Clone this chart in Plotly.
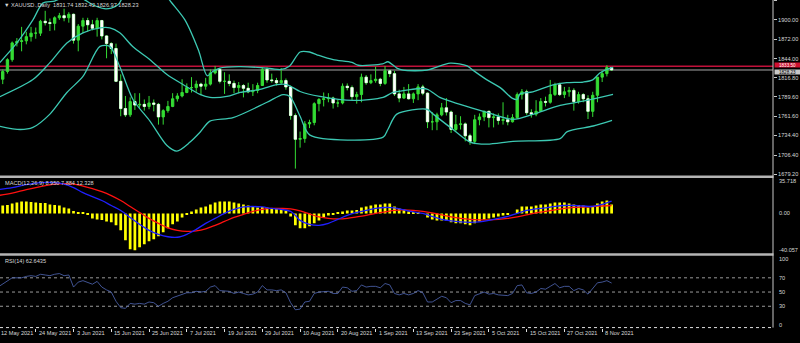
import plotly.graph_objects as go
import pandas as pd

# ---------------- data ----------------
dates = pd.bdate_range("2021-05-12", "2021-11-10")  # 131 daily bars

opens = [1836,1815,1826,1843,1867,1869,1870,1876,1881,1881,1898,1896,1895,1903,1906,1903,1908,1871,1891,1899,
         1893,1888,1899,1877,1866,1859,1812,1773,1764,1783,1778,1779,1776,1781,1779,1761,1770,1776,1787,1791,
         1796,1803,1803,1808,1805,1808,1824,1829,1812,1812,1809,1803,1806,1802,1797,1799,1806,1829,1814,1813,
         1810,1813,1804,1763,1729,1730,1751,1753,1780,1786,1787,1788,1781,1781,1805,1803,1790,1793,1818,1810,
         1813,1815,1809,1827,1823,1794,1788,1794,1787,1794,1804,1795,1754,1754,1764,1774,1768,1743,1750,1751,
         1734,1726,1757,1761,1769,1760,1761,1756,1757,1754,1760,1793,1797,1767,1765,1769,1783,1782,1793,1807,
         1793,1797,1799,1783,1793,1787,1769,1792,1818,1823,1831.74]
highs = [1845,1829,1845,1869,1874,1890,1883,1890,1889,1900,1913,1902,1905,1910,1916,1911,1909,1894,1903,1903,
         1900,1903,1900,1878,1868,1866,1822,1791,1789,1795,1795,1786,1791,1786,1781,1772,1784,1795,1795,1815,
         1809,1818,1813,1810,1817,1829,1834,1831,1825,1822,1813,1811,1808,1810,1808,1810,1832,1832,1823,1817,
         1831,1816,1806,1766,1740,1755,1757,1782,1788,1796,1795,1790,1786,1809,1809,1806,1797,1823,1821,1822,
         1833,1817,1834,1828,1827,1800,1804,1808,1796,1808,1807,1796,1768,1767,1781,1788,1770,1764,1762,1753,
         1737,1764,1766,1770,1770,1766,1766,1782,1764,1765,1796,1801,1800,1772,1785,1788,1790,1814,1810,1810,
         1804,1804,1802,1797,1795,1792,1797,1818,1827,1835,1832.42]
lows = [1813,1808,1823,1840,1862,1855,1865,1869,1873,1877,1892,1884,1885,1900,1898,1896,1866,1855,1881,1883,
        1885,1876,1872,1845,1851,1811,1762,1761,1761,1771,1774,1770,1772,1769,1750,1750,1767,1775,1783,1789,
        1795,1796,1797,1792,1800,1806,1822,1809,1794,1805,1795,1795,1789,1795,1791,1795,1806,1810,1810,1806,
        1808,1800,1757,1687,1717,1724,1745,1749,1769,1776,1782,1773,1775,1779,1799,1785,1780,1782,1807,1808,
        1810,1805,1807,1818,1791,1782,1787,1786,1781,1785,1792,1745,1742,1742,1762,1763,1738,1740,1743,1726,
        1721,1722,1749,1755,1746,1746,1750,1750,1749,1753,1758,1786,1764,1760,1762,1768,1776,1780,1791,1791,
        1788,1790,1770,1780,1782,1758,1761,1782,1811,1819,1826.97]
closes = [1815,1826,1843,1867,1869,1870,1876,1881,1881,1898,1896,1895,1903,1906,1903,1908,1871,1891,1899,1893,
          1888,1899,1877,1866,1859,1812,1773,1764,1783,1778,1779,1776,1781,1779,1761,1770,1776,1787,1791,1796,
          1803,1803,1808,1805,1808,1824,1829,1812,1812,1809,1803,1806,1802,1797,1799,1806,1829,1814,1813,1810,
          1813,1804,1763,1729,1730,1751,1753,1780,1786,1787,1788,1781,1781,1805,1803,1790,1793,1818,1810,1813,
          1815,1809,1827,1823,1794,1788,1794,1787,1794,1804,1795,1754,1754,1764,1774,1768,1743,1750,1751,1734,
          1726,1757,1761,1769,1760,1761,1756,1757,1754,1760,1793,1797,1767,1765,1769,1783,1782,1793,1807,1793,
          1797,1799,1783,1793,1787,1769,1792,1818,1823,1831.7,1828.23]

# Bollinger bands (20,2): (bar index, price)
bb_up_x = [0.4,4,7.4,9.5,12,14,16,18,20,22.5,24,25.5,27,29,31,33,35,36.4,39.6,42.5,44.3,45.5,47,51,55,58,60,61.8,
           64,66,68,71,75,76.3,81.5,82.6,84.5,85.8,90.9,95.8,99.4,100.6,103.6,106.4,108.9,110,110.6,113.3,117.6,
           120.5,124,126,127.5,129.7,130.3]
bb_up_y = [1839,1867,1900,1924,1927,1933,1934,1930,1922,1916,1917,1922,1940,1955,1960,1957,1942,1928,1900,1856,
           1820,1826,1831,1833,1832,1830,1829,1834,1854,1854,1849,1843,1839,1835,1837,1840,1831,1828,1828,1838,
           1834,1828,1814,1803,1788,1786,1794,1797,1807,1810,1811,1814,1824,1831,1832]
bb_mid_x = [0.4,7.4,11,14.6,18,21.6,23.7,25.8,28.6,32.2,35.8,39.2,42.8,44.9,48.5,51.3,55.5,59.1,61.2,62.5,64,68.2,
            75.2,81.6,83.7,90,91.1,93.6,97.9,103.6,109.1,113.3,119.1,124.8,130.3]
bb_mid_y = [1790,1814.5,1838.7,1867,1881.5,1888.6,1888.6,1881.5,1861.5,1843,1821.7,1807.4,1793.2,1789,1790.3,1796,
            1800.3,1807.4,1807.4,1803,1797.4,1790.3,1784.6,1789,1796,1801.7,1800.3,1789,1779,1767.5,1757.5,1764.7,
            1777.5,1784.6,1793.2]
bb_low_x = [0.4,4.7,7.4,11,14.6,18,21.6,23.7,25.8,28.6,32.2,35.8,37.9,40.7,42.8,44.9,49.8,57,60.4,61.9,64,66.1,
            81.6,82.6,84.5,90.9,92.2,96.4,100,103.6,109.1,119.1,120.6,126.1,130.1]
bb_low_y = [1747.6,1743,1746,1765,1796,1819,1862,1862,1833,1786,1755,1720,1712,1725,1739,1755,1760,1782,1793,1790,
            1762,1735,1732,1743,1765,1772,1765,1743,1725,1722,1726,1730,1740,1748,1756]

red_level = 1833.5
bid_level = 1828.23

# MACD(12,26,9)
macd_hist = [8,8,8.5,10,11,12,12,11.5,11,10.5,10.5,9,8.5,8,6,5,2.5,1.5,1,-1.5,
             -5,-6,-6.5,-8,-9,-12,-17,-27,-36,-37,-34,-31,-28,-26,-23,-19,-15,-11,-8,-4,
             -1,2,4,6,7,9,11,12,12,12,11,10,9,8,7,6,6.5,6,5,4.5,
             4,3,-3,-12,-15,-15,-13,-10,-7,-4,-2,-1,0.5,2,3,3,3.5,6,7,8,
             9,9,10,10,7,5,4,2,1,1,0,-4,-6,-7,-7,-7,-9,-10,-10,-11,
             -12,-10,-8,-6,-5,-4,-3,-2,-1.5,0,4,7,7,7,8,9,9,10,11,11,
             11,10,9,8.5,8,6,7,10,12,13,8.95]
macd_blue_x = [0,3,6,9,12,14,16,18,20,22,24,26,28,30,32,34,36,38,40,42,44,46,48,50,52,54,56,58,60,62,63,64,66,68,70,
               72,74,76,78,80,82,84,86,88,90,92,94,96,98,100,102,104,106,108,110,112,114,116,118,120,122,124,126,128,130]
macd_blue_y = [24,26,29,31,31,29.5,26,21,17,13,8,3,-4,-11,-17,-21,-23.5,-24,-21,-16,-10,-5,0,4,6.5,7,6.5,5,4,2,-2,
               -7,-11,-12,-10,-6,-2,1,3,5,6,5.5,3.5,1.5,0,-3,-6,-7.5,-8.5,-9,-8.5,-7,-5,-3,0,3,4.5,5.5,7,8,8,7.5,7,
               9,12.328]
macd_red_x = [0,3,6,9,12,14,16,18,20,22,24,26,28,30,32,34,36,38,40,42,44,46,48,50,52,54,56,58,60,62,64,66,68,70,72,
              74,76,78,80,82,84,86,88,90,92,94,96,98,100,102,104,106,108,110,112,114,116,118,120,122,124,126,128,130]
macd_red_y = [18,20.5,24,27,29.5,30,29.5,27.5,25,22,18,13,7,1,-5,-10,-14.5,-17,-18,-17.5,-15.5,-12,-8,-4,-1,2,4,5,
              5,4.5,2.5,-0.5,-3.5,-5,-5.5,-5,-3.5,-2,0,1.5,3,3.5,3,2,0.5,-1.5,-3.5,-5,-6,-6.5,-6.5,-6,-5,-3.5,-1.5,
              0.5,2,3.5,5,6,6.5,7,7.5,7.884]
macd_top, macd_bottom = 35.718, -40.057

# RSI(14)
rsi = [57,61,65,70,70,70,72,73,72,75,74,73,75,76,73,74,57,64,66,63,
       61,65,57,53,50,37,28,27,34,33,34,33,36,35,30,34,37,42,44,46,
       49,49,51,50,51,57,59,52,52,51,48,50,48,46,47,50,59,53,53,52,
       53,49,35,25,26,36,37,48,50,51,51,48,48,57,56,51,52,60,57,58,
       58,56,62,60,48,46,48,46,48,52,49,36,36,40,44,42,35,38,38,34,
       32,45,47,50,47,48,46,46,45,48,59,60,49,48,50,55,54,58,62,56,
       58,58,52,55,53,47,55,63,64,66,62.6435]
rsi_levels = [70, 50, 30]
rsi_labels = [100, 70, 50, 30, 0]

price_ticks = [1927.20, 1900.00, 1872.00, 1844.00, 1816.80, 1789.60, 1761.60, 1734.40, 1706.40, 1679.20]

# ---------------- style / layout geometry ----------------
W, H = 800, 343
AX = 773            # right axis pixel
BAR0, STEP = -2.0, 4.72   # pixel of bar 0 and bar spacing
def px(xp):
    return xp / W
def py(yp):
    return (H - yp) / H

GREEN = "#34dc34"
TEAL = "#3cc8b2"
TXT = "#d8d8d8"
FONT = "Liberation Sans"
FS = 5.6

idx = list(range(len(closes)))
x_lo = (0 - BAR0) / STEP
x_hi = (AX - BAR0) / STEP

fig = go.Figure()

# candles (wicks + bull bodies)
fig.add_trace(go.Candlestick(
    x=idx, open=opens, high=highs, low=lows, close=closes,
    xaxis="x", yaxis="y",
    increasing=dict(line=dict(color=GREEN, width=1), fillcolor=GREEN),
    decreasing=dict(line=dict(color=GREEN, width=1), fillcolor="white"),
    whiskerwidth=0, showlegend=False, hoverinfo="skip"))
# white bear bodies over the wicks
bear = [i for i in idx if closes[i] < opens[i]]
fig.add_trace(go.Candlestick(
    x=bear, open=[opens[i] for i in bear], high=[opens[i] for i in bear],
    low=[closes[i] for i in bear], close=[closes[i] for i in bear],
    xaxis="x", yaxis="y",
    increasing=dict(line=dict(color="white", width=0.6), fillcolor="white"),
    decreasing=dict(line=dict(color="white", width=0.6), fillcolor="white"),
    whiskerwidth=0, showlegend=False, hoverinfo="skip"))

for bx, by in [(bb_up_x, bb_up_y), (bb_mid_x, bb_mid_y), (bb_low_x, bb_low_y)]:
    fig.add_trace(go.Scatter(x=bx, y=by, mode="lines", xaxis="x", yaxis="y",
                             line=dict(color=TEAL, width=1.3, shape="spline", smoothing=0.8),
                             showlegend=False, hoverinfo="skip"))

# MACD
fig.add_trace(go.Bar(x=idx, y=macd_hist, xaxis="x2", yaxis="y2", marker=dict(color="#ffff00", line=dict(width=0)),
                     width=0.58, showlegend=False, hoverinfo="skip"))
fig.add_trace(go.Scatter(x=macd_red_x, y=macd_red_y, mode="lines", xaxis="x2", yaxis="y2",
                         line=dict(color="#ff1010", width=1.3, shape="spline"), showlegend=False, hoverinfo="skip"))
fig.add_trace(go.Scatter(x=macd_blue_x, y=macd_blue_y, mode="lines", xaxis="x2", yaxis="y2",
                         line=dict(color="#2020ff", width=1.3, shape="spline"), showlegend=False, hoverinfo="skip"))

# RSI
fig.add_trace(go.Scatter(x=idx, y=rsi, mode="lines", xaxis="x3", yaxis="y3",
                         line=dict(color="#5068b8", width=0.8), showlegend=False, hoverinfo="skip"))

shapes = []
# price lines
shapes.append(dict(type="line", xref="paper", x0=0, x1=px(AX), yref="y", y0=red_level, y1=red_level,
                   line=dict(color="#c0103a", width=1.6), layer="below"))
shapes.append(dict(type="line", xref="paper", x0=0, x1=px(AX), yref="y", y0=bid_level, y1=bid_level,
                   line=dict(color="#a8a8a8", width=1), layer="below"))
# RSI levels
for lv in rsi_levels:
    shapes.append(dict(type="line", xref="paper", x0=0, x1=px(AX), yref="y3", y0=lv, y1=lv,
                       line=dict(color="#9a9a9a", width=1, dash="dot"), layer="below"))
# panel separators
for y0, y1 in [(176.5, 179), (254.7, 257.2)]:
    shapes.append(dict(type="rect", xref="paper", yref="paper", x0=0, x1=px(AX + 0.5), y0=py(y1), y1=py(y0),
                       fillcolor="#b4b4b4", line=dict(width=0)))
# right axis line
shapes.append(dict(type="line", xref="paper", yref="paper", x0=px(AX), x1=px(AX), y0=py(329.5), y1=1,
                   line=dict(color="#c8c8c8", width=1)))
# bottom dotted time axis line
shapes.append(dict(type="line", xref="paper", yref="paper", x0=0, x1=px(AX), y0=py(329.5), y1=py(329.5),
                   line=dict(color="#e0e0e0", width=1, dash="dot")))

ann = []
title = "XAUUSD.,Daily  {:.2f} {:.2f} {:.2f} {:.2f}".format(opens[-1], highs[-1], lows[-1], closes[-1])
ann.append(dict(text="\u25BC " + title, xref="paper", yref="paper", x=px(2), y=py(5.5), xanchor="left",
                yanchor="middle", showarrow=False, font=dict(color=TXT, size=FS, family=FONT)))
ann.append(dict(text="MACD(12,26,9) {:.3f} {:.3f} {:.3f}".format(macd_hist[-1], macd_red_y[-1], macd_blue_y[-1]),
                xref="paper", yref="paper", x=px(3), y=py(184), xanchor="left", yanchor="middle",
                showarrow=False, font=dict(color=TXT, size=FS, family=FONT)))
ann.append(dict(text="RSI(14) {:.4f}".format(rsi[-1]), xref="paper", yref="paper", x=px(3), y=py(262.5),
                xanchor="left", yanchor="middle", showarrow=False, font=dict(color=TXT, size=FS, family=FONT)))

# MACD axis labels
for val, txt, sh in [(macd_top, "{:.3f}".format(macd_top), -3), (0, "0.00", 0),
                     (macd_bottom, "{:.3f}".format(macd_bottom), 3)]:
    ann.append(dict(text=txt, xref="paper", yref="y2", x=px(AX + 4), y=val, yshift=sh, xanchor="left",
                    yanchor="middle", showarrow=False, font=dict(color=TXT, size=FS, family=FONT)))
# RSI axis labels
for val in rsi_labels:
    sh = -3 if val == 100 else (3 if val == 0 else 0)
    ann.append(dict(text=str(val), xref="paper", yref="y3", x=px(AX + 4), y=val, yshift=sh, xanchor="left",
                    yanchor="middle", showarrow=False, font=dict(color=TXT, size=FS, family=FONT)))

# price boxes on the axis
ann.append(dict(text="{:.2f}".format(red_level), xref="paper", yref="y", x=px(AX + 1), y=red_level, yshift=1.2,
                xanchor="left", yanchor="middle", showarrow=False, bgcolor="#d01030", borderpad=0, width=25,
                height=4, font=dict(color="white", size=4.6, family=FONT)))
ann.append(dict(text="{:.2f}".format(bid_level), xref="paper", yref="y", x=px(AX + 1), y=bid_level, yshift=-2.2,
                xanchor="left", yanchor="middle", showarrow=False, bgcolor="#c8c8c8", borderpad=0, width=25,
                height=4, font=dict(color="black", size=4.6, family=FONT)))

# date labels every 8 bars (left-aligned at the tick, MT4 style)
tick_idx = idx[::8]
for i in tick_idx:
    d = dates[i]
    ann.append(dict(text="{} {}".format(d.day, d.strftime("%b %Y")), xref="paper", yref="paper",
                    x=px(BAR0 + STEP * i + 1), y=py(334.5), xanchor="left", yanchor="middle", showarrow=False,
                    font=dict(color=TXT, size=FS, family=FONT)))

ax_common = dict(showgrid=False, zeroline=False, showline=False, range=[x_lo, x_hi], domain=[0, px(AX)])
fig.update_layout(
    width=W, height=H, margin=dict(l=0, r=0, t=0, b=0),
    paper_bgcolor="black", plot_bgcolor="black",
    showlegend=False, bargap=0.4,
    xaxis=dict(**ax_common, anchor="y", showticklabels=False, rangeslider=dict(visible=False)),
    xaxis2=dict(**ax_common, anchor="y2", showticklabels=False),
    xaxis3=dict(**ax_common, anchor="y3", showticklabels=False, ticks="outside", tickvals=tick_idx,
                ticklen=3, tickcolor="#e0e0e0", tickwidth=1),
    yaxis=dict(domain=[py(176.5), 1], range=[1900 - 156.5 * 1.424, 1900 + 20 * 1.424], side="right",
               anchor="x", showgrid=False, zeroline=False, showline=False, tickvals=price_ticks,
               ticktext=["{:.2f}".format(v) for v in price_ticks], ticks="outside", ticklen=3,
               tickcolor="#c8c8c8", tickfont=dict(color=TXT, size=FS, family=FONT)),
    yaxis2=dict(domain=[py(254.7), py(179)], range=[macd_bottom, macd_top], side="right", anchor="x2",
                showgrid=False, zeroline=False, showline=False, showticklabels=False),
    yaxis3=dict(domain=[py(329.5), py(258)], range=[0, 100], side="right", anchor="x3",
                showgrid=False, zeroline=False, showline=False, showticklabels=False),
    shapes=shapes, annotations=ann,
)

fig.write_html("out.html")
